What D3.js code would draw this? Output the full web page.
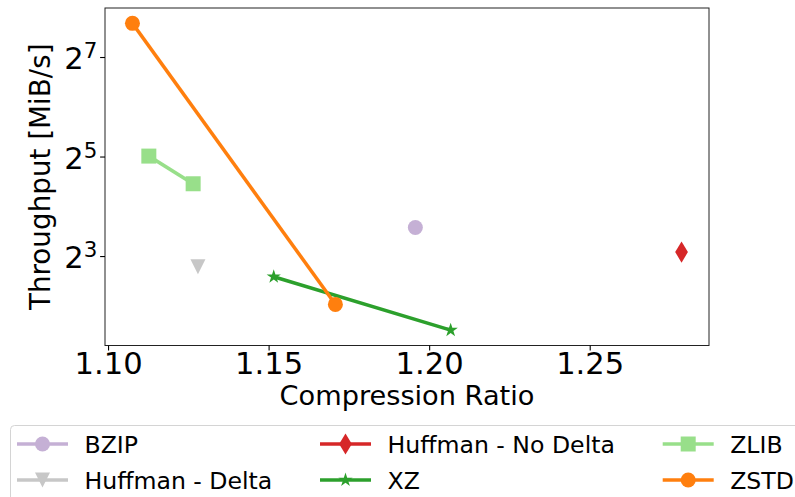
<!DOCTYPE html>
<html>
<head>
<meta charset="utf-8">
<script src="https://cdn.jsdelivr.net/npm/d3@7"></script>
<style>
  body { margin: 0; background: #fff; }
  svg text { font-family: "DejaVu Sans", sans-serif; fill: #000; }
</style>
</head>
<body>
<svg id="chart" width="795" height="497"></svg>
<script>
// Compression ratio vs. throughput for each codec
const seriesNames = ["BZIP", "Huffman - Delta", "Huffman - No Delta", "XZ", "ZLIB", "ZSTD"];
const ratios = [
  [1.1957],
  [1.1280],
  [1.2786],
  [1.1516, 1.2067],
  [1.1127, 1.1265],
  [1.1076, 1.1708]
];
const throughputs = [
  [11.9],
  [6.9],
  [8.46],
  [6.0, 2.85],
  [32.2, 21.9],
  [204.6, 4.08]
];
const seriesColors = ["#c5b0d5", "#c7c7c7", "#d62728", "#2ca02c", "#98df8a", "#ff7f0e"];
const seriesMarkers = ["circle", "triangleDown", "thinDiamond", "star", "square", "circle"];
const xTicks = [1.10, 1.15, 1.20, 1.25];
const yTickExponents = [3, 5, 7];

const svg = d3.select("#chart");
const plot = { left: 105, right: 709, top: 8, bottom: 345.5 };

// matplotlib-style 5% margins around the data
const allX = ratios.flat();
const allY = throughputs.flat().map(Math.log2);
const xPad = (d3.max(allX) - d3.min(allX)) * 0.05;
const yPad = (d3.max(allY) - d3.min(allY)) * 0.05;

const x = d3.scaleLinear()
  .domain([d3.min(allX) - xPad, d3.max(allX) + xPad])
  .range([plot.left, plot.right]);
const y = d3.scaleLog().base(2)
  .domain([Math.pow(2, d3.min(allY) - yPad), Math.pow(2, d3.max(allY) + yPad)])
  .range([plot.bottom, plot.top]);

// marker shapes, sized like matplotlib markersize 15
const ms = 15;
function markerPath(kind) {
  const p = d3.path();
  if (kind === "circle") {
    p.arc(0, 0, ms / 2, 0, 2 * Math.PI);
  } else if (kind === "square") {
    p.rect(-ms / 2, -ms / 2, ms, ms);
  } else if (kind === "triangleDown") {
    p.moveTo(0, ms / 2); p.lineTo(-ms / 2, -ms / 2); p.lineTo(ms / 2, -ms / 2); p.closePath();
  } else if (kind === "thinDiamond") {
    const h = ms * Math.SQRT2 / 2, w = h * 0.6;
    p.moveTo(0, -h); p.lineTo(w, 0); p.lineTo(0, h); p.lineTo(-w, 0); p.closePath();
  } else if (kind === "star") {
    const ro = ms / 2, ri = ro * 0.381966;
    for (let i = 0; i < 10; i++) {
      const r = i % 2 ? ri : ro;
      const a = -Math.PI / 2 + i * Math.PI / 5;
      const px = r * Math.cos(a), py = r * Math.sin(a);
      if (i === 0) p.moveTo(px, py); else p.lineTo(px, py);
    }
    p.closePath();
  }
  return p.toString();
}

// axes frame
svg.append("rect")
  .attr("x", plot.left).attr("y", plot.top)
  .attr("width", plot.right - plot.left).attr("height", plot.bottom - plot.top)
  .attr("fill", "none").attr("stroke", "#222").attr("stroke-width", 1);

// x axis
const xAxis = d3.axisBottom(x).tickValues(xTicks).tickFormat(d3.format(".2f"))
  .tickSize(4.9).tickPadding(4);
const gx = svg.append("g").attr("transform", `translate(0,${plot.bottom})`).call(xAxis);
gx.select(".domain").remove();
gx.selectAll(".tick line").attr("stroke", "#000").attr("stroke-width", 1.1);
gx.selectAll(".tick text")
  .attr("font-size", "30.6px")
  .attr("dy", null)
  .attr("y", 28.5)
  .style("font-family", "DejaVu Sans");

// y axis (log base 2, labels as powers of two)
const yAxis = d3.axisLeft(y).tickValues(yTickExponents.map(e => Math.pow(2, e)))
  .tickFormat("").tickSize(4.9);
const gy = svg.append("g").attr("transform", `translate(${plot.left},0)`).call(yAxis);
gy.select(".domain").remove();
gy.selectAll(".tick line").attr("stroke", "#000").attr("stroke-width", 1.1);
gy.selectAll(".tick").each(function (d) {
  const label = d3.select(this).append("text")
    .attr("x", -40.8).attr("y", 11.5)
    .attr("text-anchor", "start")
    .style("font-family", "DejaVu Sans");
  label.append("tspan")
    .attr("font-size", "30.6px")
    .text("2");
  label.append("tspan")
    .attr("font-size", "21.4px")
    .attr("dy", -10.9)
    .text(String(Math.round(Math.log2(d))));
});

// axis titles
svg.append("text")
  .attr("x", (plot.left + plot.right) / 2).attr("y", 405)
  .attr("text-anchor", "middle")
  .attr("font-size", "27.2px")
  .text("Compression Ratio");
svg.append("text")
  .attr("transform", `translate(49.5,${(plot.top + plot.bottom) / 2}) rotate(-90)`)
  .attr("text-anchor", "middle")
  .attr("font-size", "27.8px")
  .text("Throughput [MiB/s]");

// series: connecting lines then markers
const line = d3.line().x(d => x(d[0])).y(d => y(d[1]));
seriesNames.forEach((name, i) => {
  const pts = ratios[i].map((r, j) => [r, throughputs[i][j]]);
  const g = svg.append("g").attr("class", "series");
  if (pts.length > 1) {
    g.append("path").datum(pts)
      .attr("d", line)
      .attr("fill", "none")
      .attr("stroke", seriesColors[i])
      .attr("stroke-width", 3.5)
      .attr("stroke-linecap", "square");
  }
  g.selectAll("path.marker").data(pts).join("path")
    .attr("class", "marker")
    .attr("d", markerPath(seriesMarkers[i]))
    .attr("transform", d => `translate(${x(d[0])},${y(d[1])})`)
    .attr("fill", seriesColors[i]);
});

// legend below the axes, three columns
const legend = svg.append("g");
legend.append("rect")
  .attr("x", 10.5).attr("y", 425.5)
  .attr("width", 810).attr("height", 120)
  .attr("rx", 4)
  .attr("fill", "#fff").attr("stroke", "#d4d4d4").attr("stroke-width", 1);
const colX = [17, 320, 662.7];
const rowY = [444, 480];
seriesNames.forEach((name, i) => {
  const cx = colX[Math.floor(i / 2)], cy = rowY[i % 2];
  const g = legend.append("g").attr("transform", `translate(${cx},${cy})`);
  g.append("line")
    .attr("x1", 0).attr("x2", 51)
    .attr("stroke", seriesColors[i]).attr("stroke-width", 3.5);
  g.append("path")
    .attr("d", markerPath(seriesMarkers[i]))
    .attr("transform", "translate(25.5,0)")
    .attr("fill", seriesColors[i]);
  g.append("text")
    .attr("x", 67.5).attr("y", 9.3)
    .attr("font-size", "23.6px")
    .text(name);
});
</script>
</body>
</html>
